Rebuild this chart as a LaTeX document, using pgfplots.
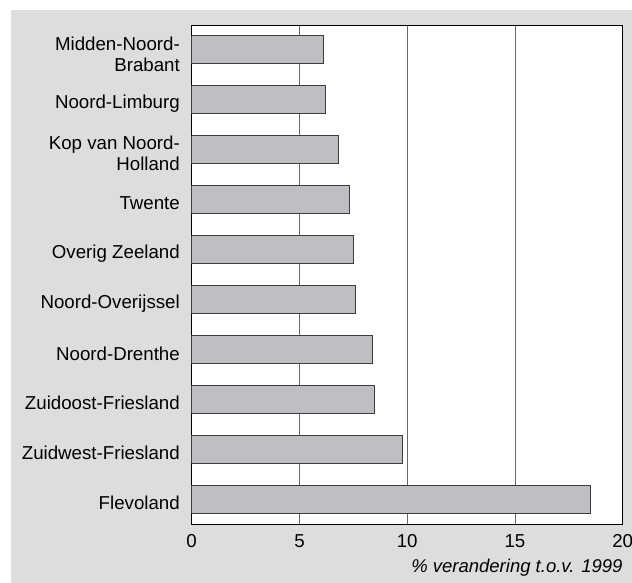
\documentclass[border=0pt]{standalone}
\usepackage{pgfplots}
\pgfplotsset{compat=1.18}
\usepackage{fontspec}
\setmainfont{Liberation Sans}
\definecolor{bggray}{RGB}{220,221,223}
\definecolor{barfill}{RGB}{190,191,195}
\definecolor{baredge}{RGB}{60,60,60}
\definecolor{gridgray}{RGB}{105,105,105}
\begin{document}
\begin{tikzpicture}[x=1pt,y=1pt]
\useasboundingbox (0,0) rectangle (632,-583);
\fill[bggray] (11,-10) rectangle (632,-583);
\begin{axis}[
  at={(191.7pt,-25pt)}, anchor=north west,
  scale only axis, width=431pt, height=499pt,
  axis background/.style={fill=white},
  xbar, bar width=0.56,
  xmin=0, xmax=20, xtick={0,5,10,15,20},
  ymin=-0.5, ymax=9.5, y dir=reverse,
  ytick={0,...,9},
  yticklabels={{Midden-Noord-\\Brabant}, Noord-Limburg, {Kop van Noord-\\Holland}, Twente, Overig Zeeland, Noord-Overijssel, Noord-Drenthe, Zuidoost-Friesland, Zuidwest-Friesland, Flevoland},
  major tick length=0pt,
  xmajorgrids, major grid style={gridgray, line width=0.9pt},
  axis line style={black, line width=0.9pt},
  every tick label/.append style={font=\fontsize{18.7}{21}\selectfont},
  /pgf/number format/assume math mode=true,
  yticklabel style={align=right, anchor=east, inner sep=0pt, xshift=-11.7pt, yshift=-4pt},
  xticklabel style={anchor=base, inner sep=0pt, yshift=-23.7pt},
  xlabel={\% verandering t.o.v. 1999},
  xlabel style={at={(rel axis cs:1,0)}, anchor=base east, inner sep=0pt, yshift=-48.7pt, font=\fontsize{18.5}{20}\selectfont\itshape},
]
\addplot[fill=barfill, draw=baredge, line width=1pt] coordinates {
  (6.1,0) (6.2,1) (6.8,2) (7.3,3) (7.5,4) (7.6,5) (8.4,6) (8.5,7) (9.8,8) (18.5,9)
};
\end{axis}
\end{tikzpicture}
\end{document}
